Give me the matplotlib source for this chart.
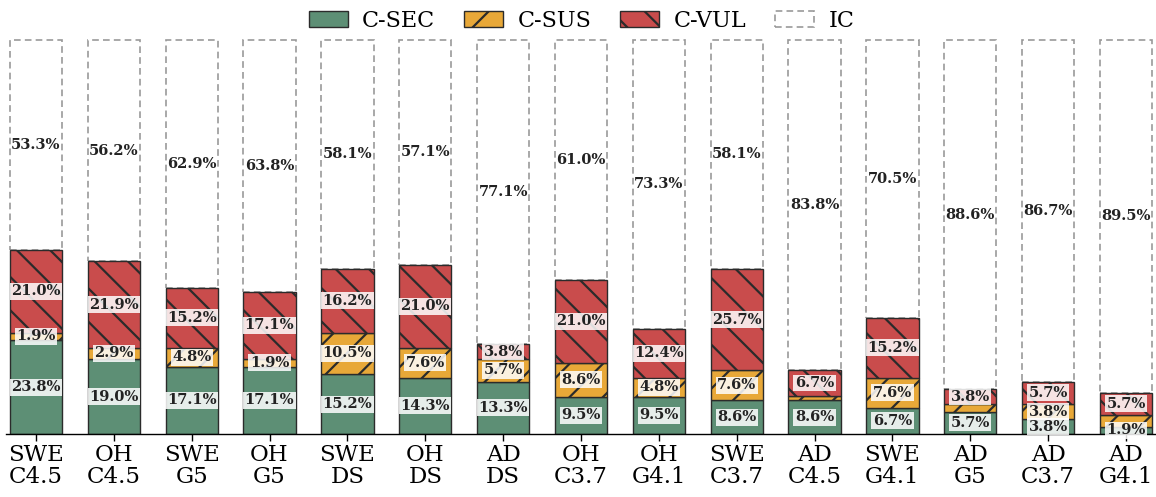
import numpy as np
import matplotlib
matplotlib.use("Agg")
import matplotlib.pyplot as plt

# category labels (setting / model)
models = ["SWE\nC4.5", "OH\nC4.5", "SWE\nG5", "OH\nG5", "SWE\nDS", "OH\nDS",
          "AD\nDS", "OH\nC3.7", "OH\nG4.1", "SWE\nC3.7", "AD\nC4.5",
          "SWE\nG4.1", "AD\nG5", "AD\nC3.7", "AD\nG4.1"]

# percentages per category
c_sec = [23.8, 19.0, 17.1, 17.1, 15.2, 14.3, 13.3, 9.5, 9.5, 8.6, 8.6, 6.7, 5.7, 3.8, 1.9]
c_sus = [1.9, 2.9, 4.8, 1.9, 10.5, 7.6, 5.7, 8.6, 4.8, 7.6, 1.0, 7.6, 1.9, 3.8, 2.9]
c_vul = [21.0, 21.9, 15.2, 17.1, 16.2, 21.0, 3.8, 21.0, 12.4, 25.7, 6.7, 15.2, 3.8, 5.7, 5.7]
ic = [53.3, 56.2, 62.9, 63.8, 58.1, 57.1, 77.1, 61.0, 73.3, 58.1, 83.8, 70.5, 88.6, 86.7, 89.5]

series_names = ["C-SEC", "C-SUS", "C-VUL", "IC"]

plt.rcParams["font.family"] = "DejaVu Serif"
plt.rcParams["hatch.linewidth"] = 1.6

fig = plt.figure(figsize=(11.56, 4.97), dpi=100)
ax = fig.add_axes([6 / 1156, 63 / 497, 1 - 6 / 1156, 394 / 497])

x = np.arange(len(models))
width = 0.67

styles = [
    dict(color="#5d8f75", hatch=None),
    dict(color="#e8a838", hatch="/"),
    dict(color="#c94c4c", hatch="\\"),
]

bottom = np.zeros(len(models))
colored = np.array(c_sec) + np.array(c_sus) + np.array(c_vul)
for name, vals, st in zip(series_names[:3], [c_sec, c_sus, c_vul], styles):
    vals = np.array(vals)
    ax.bar(x, vals, width, bottom=bottom, color=st["color"], hatch=st["hatch"],
           edgecolor="#2b2b2b", linewidth=1.0, label=name, zorder=2)
    for i, v in enumerate(vals):
        # the thin middle slice gets no label in the short, crowded bars
        if name == "C-SUS" and v < 3.0 and colored[i] < 20:
            continue
        ax.text(x[i], bottom[i] + v / 2, f"{v:.1f}%", ha="center", va="center",
                fontsize=10.5, fontweight="bold", color="#222222", zorder=4,
                bbox=dict(facecolor="white", alpha=0.85, edgecolor="none",
                          boxstyle="square,pad=0.1"))
    bottom += vals

ic = np.array(ic)
ax.bar(x, ic, width, bottom=bottom, facecolor="white", edgecolor="#999999",
       linestyle=(0, (4, 2.5)), linewidth=1.2, label="IC", zorder=1, clip_on=False)
for i, v in enumerate(ic):
    ax.text(x[i], bottom[i] + v / 2, f"{v:.1f}%", ha="center", va="center",
            fontsize=10.5, fontweight="bold", color="#222222", zorder=4)

ax.set_xlim(-0.385, len(models) - 1 + 0.385)
ax.set_ylim(0, 100)
ax.set_xticks(x)
ax.set_xticklabels(models, fontsize=16.5, linespacing=1.0)
ax.tick_params(axis="x", length=5, width=1, pad=2)
ax.set_yticks([])
for s in ["left", "right", "top"]:
    ax.spines[s].set_visible(False)
ax.spines["bottom"].set_linewidth(1.0)

fig.legend(loc="upper center", bbox_to_anchor=(0.503, 1.02), ncol=4,
           frameon=False, fontsize=16, handlelength=1.75, handleheight=0.75,
           handletextpad=0.65, columnspacing=1.3)

fig.savefig("out.png", dpi=100)
